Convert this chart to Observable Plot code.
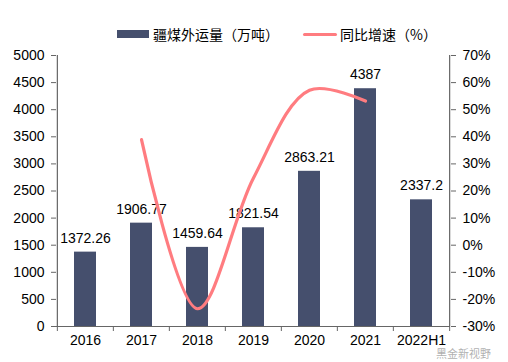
<!DOCTYPE html>
<html>
<head>
<meta charset="utf-8">
<script src="https://cdn.jsdelivr.net/npm/d3@7"></script>
<script src="https://cdn.jsdelivr.net/npm/@observablehq/plot@0.6"></script>
<style>
  html, body { margin: 0; padding: 0; background: #fff; }
  #wrap { position: relative; width: 508px; height: 362px; overflow: hidden;
          font-family: "Liberation Sans", Arial, "Noto Sans CJK SC", sans-serif; }
  #wrap svg { position: absolute; left: 0; top: 0; }
  #legend { position: absolute; left: 0; top: 24px; width: 508px; height: 20px; font-size: 14px; color: #000; }
  .item { position: absolute; top: 0; display: flex; align-items: center; height: 20px; }
  .sw-bar { width: 32px; height: 8px; background: #454F6D; margin-right: 4px; }
  .sw-line { width: 34px; height: 3px; background: #FF7C80; border-radius: 2px; margin-right: 3px; }
  .cjk { font-family: "Noto Sans CJK SC", sans-serif; }
  #wm { position: absolute; left: 436px; top: 347px; font-size: 11px; line-height: 13px; color: rgba(150,150,150,0.75);
        font-family: "Noto Sans CJK SC", sans-serif; }
</style>
</head>
<body>
<div id="wrap">
  <div id="legend">
    <div class="item" style="left:117px"><div class="sw-bar"></div><span class="cjk">疆煤外运量（万吨）</span></div>
    <div class="item" style="left:303px"><div class="sw-line"></div><span class="cjk">同比增速（%）</span></div>
  </div>
</div>
<script>
const years = ["2016", "2017", "2018", "2019", "2020", "2021", "2022H1"];
const volumes = [1372.26, 1906.77, 1459.64, 1821.54, 2863.21, 4387, 2337.2];
const growthYears = ["2017", "2018", "2019", "2020", "2021"];
const growthPct = [38.95, -23.45, 24.8, 57.2, 53.2];
const leftTicks = d3.range(0, 5001, 500);
const rightTicks = d3.range(-30, 71, 10);

const W = 508, H = 362;
const mL = 56, mR = 58, mT = 55, mB = 36;
const step = (W - mL - mR) / years.length;
const axisColor = "#666666";
const font = "Liberation Sans, Arial, sans-serif";

const bars = years.map((y, i) => ({year: y, value: volumes[i]}));
const growth = growthYears.map((y, i) => ({year: y, pct: growthPct[i]}));

const xOpts = {type: "band", domain: years, paddingInner: 0.6, paddingOuter: 0.3, align: 0.5};

const left = Plot.plot({
  width: W, height: H,
  marginLeft: mL, marginRight: mR, marginTop: mT, marginBottom: mB,
  style: {fontFamily: font, fontSize: "14px", color: "#000", background: "transparent"},
  x: {...xOpts, label: null},
  y: {domain: [0, 5000], label: null},
  marks: [
    Plot.barY(bars, {x: "year", y: "value", fill: "#454F6D"}),
    Plot.text(bars, {x: "year", y: "value", text: d => String(d.value), dy: -14, fontSize: 14, fill: "#000"}),
    Plot.ruleY([0], {stroke: axisColor, strokeWidth: 1.2}),
    Plot.ruleX([years[0]], {dx: -step / 2, stroke: axisColor, strokeWidth: 1.2}),
    Plot.axisY({ticks: leftTicks, anchor: "left", tickSize: 5, tickPadding: 7, tickFormat: d => String(d), stroke: axisColor, fill: "#000", fontSize: 14, label: null}),
    Plot.axisX({ticks: years, tickSize: 5, text: null, dx: -step / 2, stroke: axisColor, label: null}),
    Plot.axisX({ticks: [years[years.length - 1]], tickSize: 5, text: null, dx: step / 2, stroke: axisColor, label: null}),
    Plot.axisX({ticks: years, tickSize: 0, tickPadding: 9, fill: "#000", fontSize: 14, label: null})
  ]
});

const right = Plot.plot({
  width: W, height: H,
  marginLeft: mL, marginRight: mR, marginTop: mT, marginBottom: mB,
  style: {fontFamily: font, fontSize: "14px", color: "#000", background: "transparent"},
  x: {...xOpts, axis: null},
  y: {domain: [-30, 70], axis: null},
  marks: [
    Plot.line(growth, {x: "year", y: "pct", curve: "catmull-rom", stroke: "#FF7C80", strokeWidth: 3.2, strokeLinecap: "round"}),
    Plot.ruleX([years[years.length - 1]], {dx: step / 2, stroke: axisColor, strokeWidth: 1.2}),
    Plot.axisY({ticks: rightTicks, anchor: "right", tickSize: 5, tickPadding: 7, tickFormat: d => d + "%", stroke: axisColor, fill: "#000", fontSize: 14, label: null})
  ]
});

const wrap = document.getElementById("wrap");
wrap.appendChild(left);
wrap.appendChild(right);
const wm = document.createElement("div");
wm.id = "wm";
wm.textContent = "黑金新视野";
wrap.appendChild(wm);
</script>
</body>
</html>
